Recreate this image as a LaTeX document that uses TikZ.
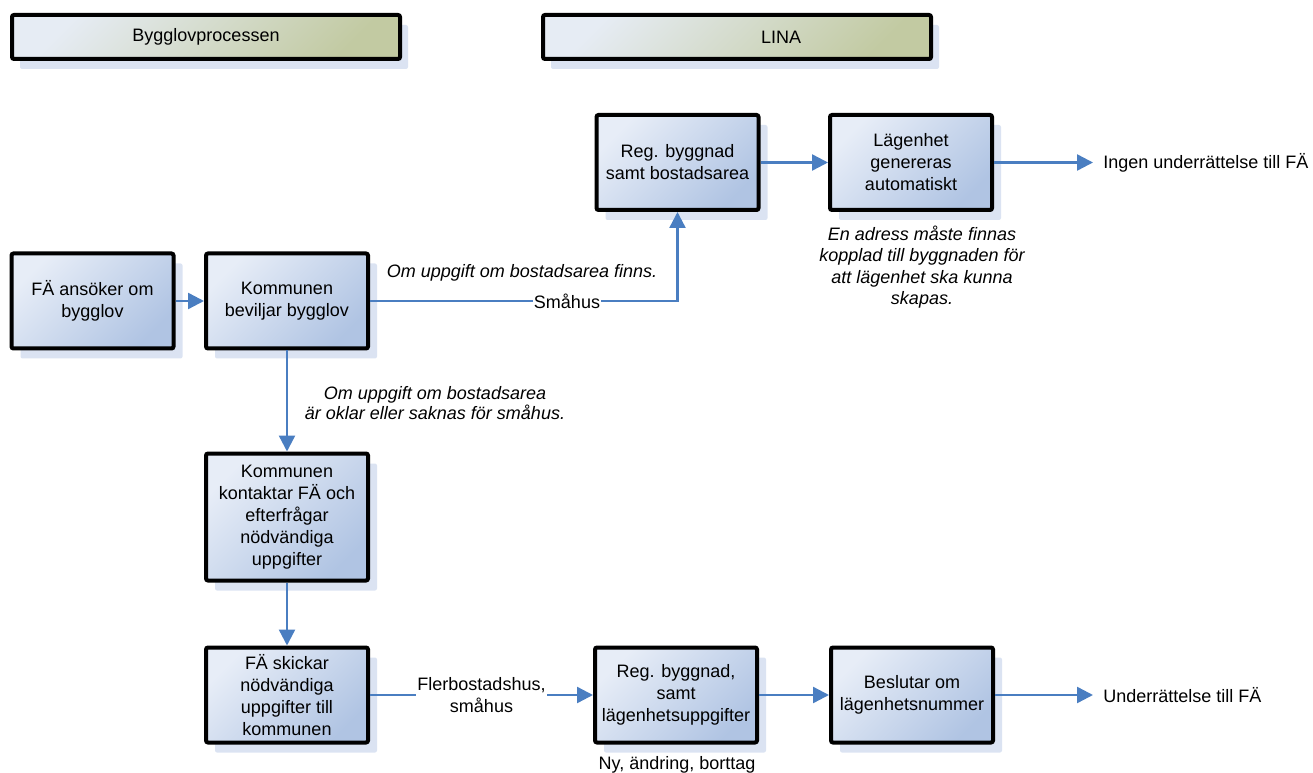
\documentclass[tikz,border=0pt]{standalone}
\usepackage{fontspec}
\setmainfont{Liberation Sans}
\usetikzlibrary{arrows.meta,shadows}
\definecolor{boxlight}{RGB}{231,237,247}
\definecolor{boxdark}{RGB}{176,196,227}
\definecolor{hdrlight}{RGB}{230,236,244}
\definecolor{hdrdark}{RGB}{194,202,162}
\definecolor{shcol}{RGB}{219,227,242}
\definecolor{linecol}{RGB}{74,126,193}
\newcommand\boxfont{\fontsize{13.5pt}{16.5pt}\selectfont}
\newcommand\notefont{\fontsize{13.5pt}{16pt}\selectfont\itshape}
\tikzset{
  procbox/.style={draw=black, line width=3pt, rounded corners=1.5pt,
    top color=boxlight, bottom color=boxdark, shading angle=45,
    minimum width=121.5pt, minimum height=71.25pt, inner sep=0pt,
    align=center, font=\boxfont,
    general shadow={fill=shcol, shadow xshift=6.75pt, shadow yshift=-7.5pt}},
  hdrbox/.style={draw=black, line width=3pt, rounded corners=1.5pt,
    top color=hdrlight, bottom color=hdrdark, shading angle=45,
    minimum height=33pt, inner sep=0pt, align=center, font=\boxfont,
    general shadow={fill=shcol, shadow xshift=6pt, shadow yshift=-7.5pt}},
  flow/.style={draw=linecol, line width=1.8pt, -{Triangle[length=12pt,width=12pt]}},
  plain/.style={inner sep=0pt, align=center, font=\boxfont},
  note/.style={inner sep=0pt, align=center, font=\notefont},
}
\begin{document}
\begin{tikzpicture}[x=0.75pt, y=-0.75pt]
\useasboundingbox (0,0) rectangle (1313,773);

% headers
\node[hdrbox, minimum width=291pt] (h1) at (206,37) {Bygglovprocessen};
\node[hdrbox, minimum width=291pt] (h2) at (737,37) {\hspace*{66pt}LINA};

% process boxes
\node[procbox] (fa) at (92.5,301) {FÄ ansöker om\\bygglov};
\node[procbox] (kb) at (287,301) {Kommunen\\beviljar bygglov};
\node[procbox] (rb) at (677.5,162.5) {Reg. byggnad\\samt bostadsarea};
\node[procbox] (lg) at (911,162.5) {Lägenhet\\genereras\\automatiskt};
\node[procbox, minimum height=95.25pt] (kk) at (287,517) {Kommunen\\kontaktar FÄ och\\efterfrågar\\nödvändiga\\uppgifter};
\node[procbox] (fs) at (287,695) {FÄ skickar\\nödvändiga\\uppgifter till\\kommunen};
\node[procbox] (rs) at (676,695) {Reg. byggnad,\\samt\\lägenhetsuppgifter};
\node[procbox] (bl) at (912,695) {Beslutar om\\lägenhetsnummer};

% end texts
\node[plain, anchor=west] (ingen) at (1103,162.5) {Ingen underrättelse till FÄ};
\node[plain, anchor=west] (under) at (1103,695) {Underrättelse till FÄ};

% connectors
\draw[flow] (fa.east) -- (kb.west);
\draw[flow] (kb.east) -| (rb.south);
\node[plain, fill=white, inner sep=1pt] (smahus) at (567,301) {Småhus};
\draw[flow] (rb.east) -- (lg.west);
\draw[flow, shorten >=7.5pt] (lg.east) -- (ingen.west);
\draw[flow] (kb.south) -- (kk.north);
\draw[flow] (kk.south) -- (fs.north);
\draw[flow] (fs.east) -- node[plain, fill=white, inner sep=1pt] (fler) {Flerbostadshus,\\småhus} (rs.west);
\draw[flow] (rs.east) -- (bl.west);
\draw[flow, shorten >=7.5pt] (bl.east) -- (under.west);

% notes
\node[note] (n1) at (522,273) {Om uppgift om bostadsarea finns.};
\node[note, font=\fontsize{13.5pt}{15pt}\selectfont\itshape] (n2) at (435,403) {Om uppgift om bostadsarea\\är oklar eller saknas för småhus.};
\node[note] (n3) at (922,267) {En adress måste finnas\\kopplad till byggnaden för\\att lägenhet ska kunna\\skapas.};
\node[plain] (ny) at (677,765) {Ny, ändring, borttag};
\end{tikzpicture}
\end{document}
